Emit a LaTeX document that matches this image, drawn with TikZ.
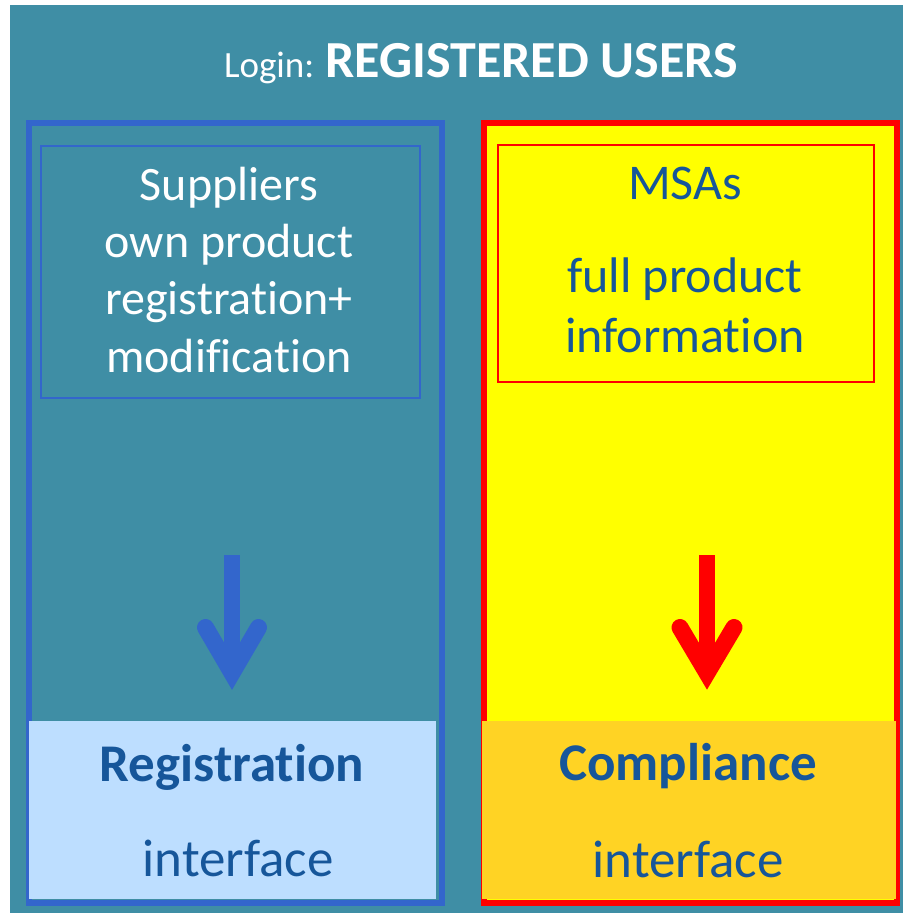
\documentclass[tikz,border=0pt]{standalone}
\usepackage{fontspec}
\setmainfont{Carlito}[Ligatures=NoCommon]
\definecolor{teal1}{HTML}{3F8EA5}
\definecolor{bord}{HTML}{3366CC}
\definecolor{lblue}{HTML}{BDDEFF}
\definecolor{tblue}{HTML}{16569A}
\definecolor{comp}{HTML}{FFD324}
\definecolor{yel}{HTML}{FFFF00}
\definecolor{rd}{HTML}{FF0000}
\begin{document}
\begin{tikzpicture}[x=1pt,y=-1pt,
  box/.style={rectangle,inner sep=0pt,anchor=north west},
  txt/.style={anchor=base,inner sep=0pt,align=center},
  shaft/.style={line width=16pt},
  head/.style={line width=17pt,line cap=round,miter limit=10}]
\useasboundingbox (0,0) rectangle (903,913);
\fill[white] (0,0) rectangle (903,913);
\node[box,fill=teal1,minimum width=893pt,minimum height=908pt] (bg) at (10,5) {};
% left column
\node[box,draw=bord,line width=6pt,minimum width=413pt,minimum height=780pt] (lbox) at (26,120) {};
\node[box,fill=lblue,minimum width=407pt,minimum height=178pt] (reg) at (29,721) {};
\node[box,draw=bord,line width=1.5pt,minimum width=379pt,minimum height=252pt] (sup) at (40,145) {};
% right column
\node[box,draw=rd,fill=yel,line width=6pt,minimum width=413pt,minimum height=780pt] (rbox) at (481,120) {};
\node[box,fill=comp,minimum width=414pt,minimum height=178pt] (cmp) at (482,721) {};
\node[box,draw=rd,line width=1.5pt,minimum width=376pt,minimum height=237pt] (msa) at (497,144) {};
% title
\node[txt,text=white] (title) at (481,77) {\fontsize{37}{40}\selectfont Login: \fontsize{52}{56}\selectfont\bfseries REGISTERED USERS};
% texts
\node[txt,text=white] (t1) at (229,200) {\fontsize{48}{57}\selectfont Suppliers};
\node[txt,text=white] (t2) at (229,257) {\fontsize{48}{57}\selectfont own product};
\node[txt,text=white] (t3) at (229,314) {\fontsize{48}{57}\selectfont registration+};
\node[txt,text=white] (t4) at (229,372) {\fontsize{48}{57}\selectfont modification};
\node[txt,text=tblue] (m1) at (685,199) {\fontsize{50}{57}\selectfont MSAs};
\node[txt,text=tblue] (m2) at (685,292) {\fontsize{50}{57}\selectfont full product};
\node[txt,text=tblue] (m3) at (685,352) {\fontsize{50}{57}\selectfont information};
\node[txt,text=tblue] (r1) at (232,781) {\fontsize{53}{57}\selectfont\bfseries Registration};
\node[txt,text=tblue] (r2) at (238,876) {\fontsize{53}{57}\selectfont interface};
\node[txt,text=tblue] (c1) at (688,780) {\fontsize{53}{57}\selectfont\bfseries Compliance};
\node[txt,text=tblue] (c2) at (688,877) {\fontsize{53}{57}\selectfont interface};
% arrows
\coordinate (la) at (232,555);
\coordinate (lv) at (232,673);
\coordinate (lb1) at (205.5,627.5);
\coordinate (lb2) at (258.5,627.5);
\draw[shaft,bord] (la) -- (lv);
\draw[head,bord] (lb1) -- (lv) -- (lb2);
\coordinate (ra) at (707,555);
\coordinate (rv) at (707,673);
\coordinate (rb1) at (680,627.5);
\coordinate (rb2) at (734,627.5);
\draw[shaft,rd] (ra) -- (rv);
\draw[head,rd] (rb1) -- (rv) -- (rb2);
\end{tikzpicture}
\end{document}
